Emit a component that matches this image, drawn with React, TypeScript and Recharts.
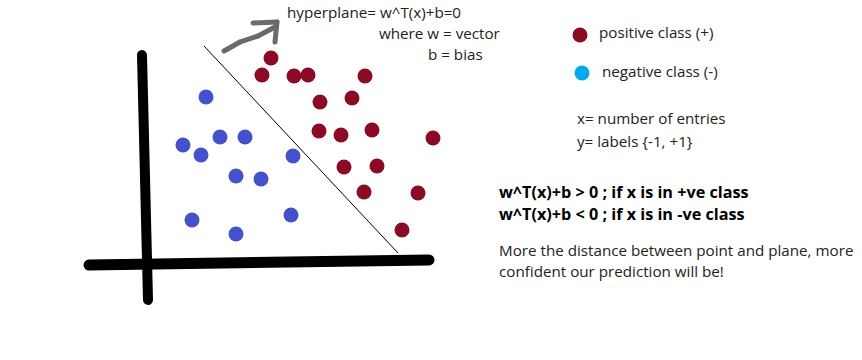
import React from "react";
import {ReferenceLine, Scatter, ScatterChart, XAxis, YAxis, Customized} from "recharts";

// coordinates are measured from the crossing of the drawn axes (x right, y up)
const positivePoints = [
  {x: 124, y: 205}, {x: 115, y: 188}, {x: 147, y: 187}, {x: 161, y: 188},
  {x: 218, y: 187}, {x: 173, y: 161}, {x: 205, y: 165}, {x: 172, y: 132},
  {x: 194, y: 128}, {x: 225, y: 133}, {x: 286, y: 125}, {x: 197, y: 96},
  {x: 230, y: 97}, {x: 217, y: 71}, {x: 271, y: 70}, {x: 255, y: 33},
];

const negativePoints = [
  {x: 59, y: 166}, {x: 36, y: 118}, {x: 73, y: 126}, {x: 98, y: 126},
  {x: 54, y: 108}, {x: 146, y: 107}, {x: 89, y: 87}, {x: 114, y: 84},
  {x: 45, y: 43}, {x: 144, y: 48}, {x: 89, y: 29},
];

const legendPositive = [{x: 433, y: 228}];
const legendNegative = [{x: 435, y: 190}];

const verticalAxis = [{x: -5, y: 208}, {x: 1, y: -37}];
const horizontalAxis = [{x: -58, y: -2}, {x: 282, y: 3}];
const hyperplane = [{x: 57, y: 217}, {x: 251, y: 10}];
const arrowStrokes = [
  [{x: 77, y: 212}, {x: 93, y: 221}],
  [{x: 93, y: 221}, {x: 111, y: 227}],
  [{x: 111, y: 227}, {x: 128, y: 236}],
  [{x: 106, y: 240}, {x: 130, y: 241}],
  [{x: 130, y: 241}, {x: 128, y: 221}],
];

const headerLines = ["hyperplane= w^T(x)+b=0", "where w = vector", "b = bias"];
const legendLabels = ["positive class (+)", "negative class (-)"];
const notationLines = ["x= number of entries", "y= labels {-1, +1}"];
const ruleLines = ["w^T(x)+b > 0 ; if x is in +ve class", "w^T(x)+b < 0 ; if x is in -ve class"];
const noteLines = ["More the distance between point and plane, more", "confident our prediction will be!"];

const RED = "#8b0a24";
const BLUE = "#4451cc";
const CYAN = "#00aaee";
const font = "'Open Sans', 'Noto Sans', sans-serif";

const Dot = (props: any) => {
  const {cx, cy, fill} = props;
  return <circle cx={cx} cy={cy} r={7.5} fill={fill}/>;
};

const Annotations = () => (
  <g fontFamily={font} fontSize={15.2} fill="#222">
    <text x={287} y={18}>{headerLines[0]}</text>
    <text x={379} y={39}>{headerLines[1]}</text>
    <text x={428} y={60}>{headerLines[2]}</text>
    <text x={599} y={38}>{legendLabels[0]}</text>
    <text x={602} y={77}>{legendLabels[1]}</text>
    <text x={577} y={124}>{notationLines[0]}</text>
    <text x={577} y={147}>{notationLines[1]}</text>
    <text x={499} y={198} fontWeight="bold" fill="#000" fontSize={16.2}>{ruleLines[0]}</text>
    <text x={499} y={220} fontWeight="bold" fill="#000" fontSize={16.2}>{ruleLines[1]}</text>
    <text x={499} y={256}>{noteLines[0]}</text>
    <text x={499} y={277}>{noteLines[1]}</text>
  </g>
);

export default function App() {
  return (
    <div style={{position: "absolute", left: 0, top: 0, width: 862, height: 360, background: "#fff"}}>
      <ScatterChart width={862} height={360} margin={{top: 0, right: 0, bottom: 0, left: 0}}>
        <XAxis type="number" dataKey="x" domain={[-147, 715]} hide/>
        <YAxis type="number" dataKey="y" domain={[-97, 263]} hide/>
        <ReferenceLine segment={verticalAxis} stroke="#000" strokeWidth={10} strokeLinecap="round"/>
        <ReferenceLine segment={horizontalAxis} stroke="#000" strokeWidth={11} strokeLinecap="round"/>
        <ReferenceLine segment={hyperplane} stroke="#000" strokeWidth={1}/>
        {arrowStrokes.map((seg, i) => (
          <ReferenceLine key={i} segment={seg} stroke="#6a6a6a" strokeWidth={5} strokeLinecap="round"/>
        ))}
        <Scatter data={positivePoints} fill={RED} shape={<Dot/>} isAnimationActive={false}/>
        <Scatter data={negativePoints} fill={BLUE} shape={<Dot/>} isAnimationActive={false}/>
        <Scatter data={legendPositive} fill={RED} shape={<Dot/>} isAnimationActive={false}/>
        <Scatter data={legendNegative} fill={CYAN} shape={<Dot/>} isAnimationActive={false}/>
        <Customized component={Annotations}/>
      </ScatterChart>
    </div>
  );
}
